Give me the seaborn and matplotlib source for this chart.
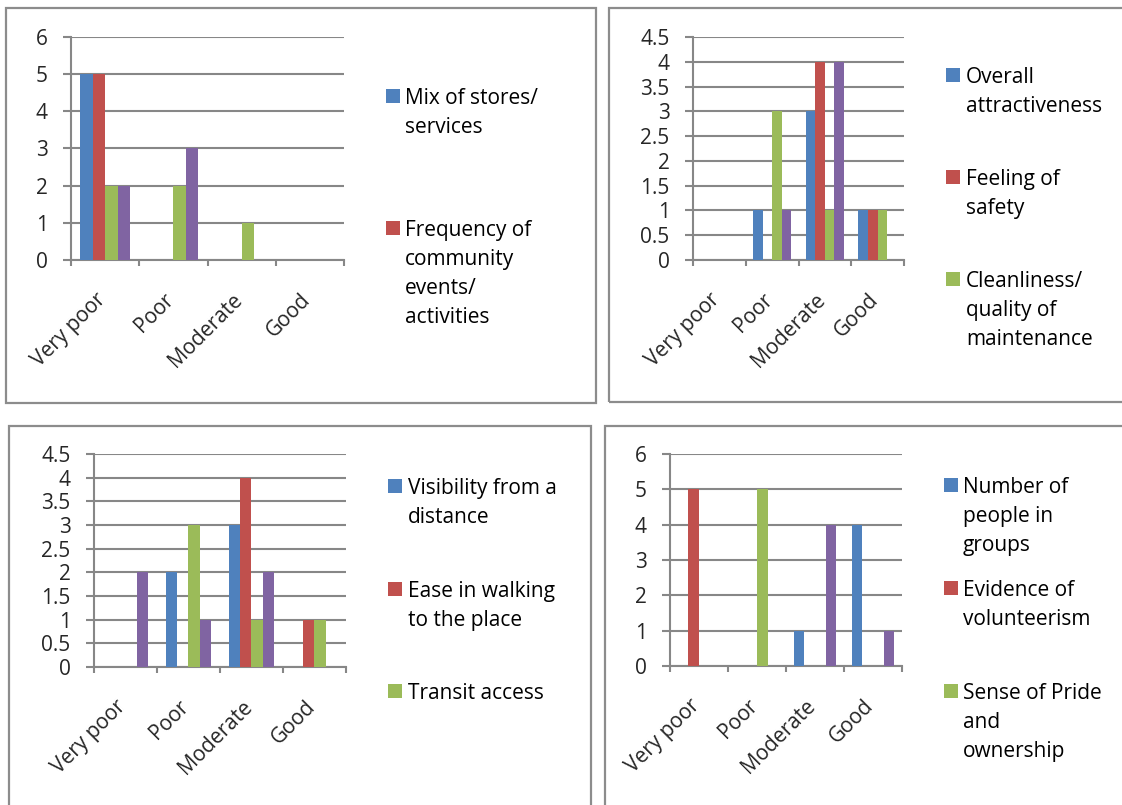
import numpy as np
import pandas as pd
import matplotlib
matplotlib.use("Agg")
import matplotlib.pyplot as plt
import matplotlib.transforms as mtransforms
from matplotlib.patches import Rectangle
import seaborn as sns

# ---------------- data ----------------
categories = ["Very poor", "Poor", "Moderate", "Good"]

p1_series = ["Mix of stores/\nservices", "Frequency of\ncommunity\nevents/\nactivities",
             "Series 3", "Series 4"]
p1_blue = [5, 0, 0, 0]
p1_red = [5, 0, 0, 0]
p1_green = [2, 2, 1, 0]
p1_purple = [2, 3, 0, 0]

p2_series = ["Overall\nattractiveness", "Feeling of\nsafety",
             "Cleanliness/\nquality of\nmaintenance", "Series 4"]
p2_blue = [0, 1, 3, 1]
p2_red = [0, 0, 4, 1]
p2_green = [0, 3, 1, 1]
p2_purple = [0, 1, 4, 0]

p3_series = ["Visibility from a\ndistance", "Ease in walking\nto the place",
             "Transit access", "Series 4"]
p3_blue = [0, 2, 3, 0]
p3_red = [0, 0, 4, 1]
p3_green = [0, 3, 1, 1]
p3_purple = [2, 1, 2, 0]

p4_series = ["Number of\npeople in\ngroups", "Evidence of\nvolunteerism",
             "Sense of Pride\nand\nownership", "Series 4"]
p4_blue = [0, 0, 1, 4]
p4_red = [5, 0, 0, 0]
p4_green = [0, 5, 0, 0]
p4_purple = [0, 0, 4, 1]

# ---------------- style ----------------
colors = ["#4F81BD", "#C0504D", "#9BBB59", "#8064A2"]
GRID = "#878787"
BORDER = "#8C8C8C"
FS = 15
W, H = 1122, 805

sns.set_style("white")
plt.rcParams["font.family"] = ["Open Sans", "DejaVu Sans"]
plt.rcParams["text.color"] = "black"

fig = plt.figure(figsize=(W / 100, H / 100), dpi=100)


def fx(x):
    return x / W


def fy(y):
    return 1 - y / H


# panel frames (px: left, top, right, bottom)
frames = [(6, 8, 596, 403), (609, 8, 1135, 402), (9, 426, 591, 815), (605, 426, 1135, 815)]
for (l, t, r, b) in frames:
    fig.add_artist(Rectangle((fx(l), fy(b)), fx(r) - fx(l), fy(t) - fy(b),
                             transform=fig.transFigure, fill=False,
                             ec=BORDER, lw=1.6, zorder=0))

panels = [
    dict(series=p1_series, vals=[p1_blue, p1_red, p1_green, p1_purple], ymax=6, step=1,
         rect=(71, 37, 344, 260), sq=386, tx=405, centers=[96, 228]),
    dict(series=p2_series, vals=[p2_blue, p2_red, p2_green, p2_purple], ymax=4.5, step=0.5,
         rect=(693, 37, 904, 260), sq=946, tx=966, centers=[75, 177, 279]),
    dict(series=p3_series, vals=[p3_blue, p3_red, p3_green, p3_purple], ymax=4.5, step=0.5,
         rect=(94, 454, 346, 667), sq=388, tx=408, centers=[486, 589, 691]),
    dict(series=p4_series, vals=[p4_blue, p4_red, p4_green, p4_purple], ymax=6, step=1,
         rect=(670, 454, 902, 666), sq=944, tx=963, centers=[485, 588, 691]),
]

for p in panels:
    l, t, r, b = p["rect"]
    ax = fig.add_axes([fx(l), fy(b), fx(r) - fx(l), fy(t) - fy(b)])
    rows = []
    for name, vals in zip(p["series"], p["vals"]):
        for c, v in zip(categories, vals):
            rows.append({"rating": c, "count": v, "series": name})
    df = pd.DataFrame(rows)
    sns.barplot(data=df, x="rating", y="count", hue="series", order=categories,
                hue_order=p["series"], palette=colors, width=4 / 5.5, saturation=1,
                linewidth=0, errorbar=None, legend=False, ax=ax, zorder=3)
    ax.set_xlim(-0.5, 3.5)
    ax.set_ylim(0, p["ymax"])
    yt = np.arange(0, p["ymax"] + 1e-9, p["step"])
    ax.set_yticks(yt)
    ax.set_yticklabels([f"{v:g}" for v in yt], fontsize=FS)
    ax.set_xlabel("")
    ax.set_ylabel("")
    ax.yaxis.grid(True, color=GRID, lw=1.5)
    ax.xaxis.grid(False)
    ax.set_axisbelow(True)
    for s in ["top", "right"]:
        ax.spines[s].set_visible(False)
    for s in ["left", "bottom"]:
        ax.spines[s].set_color(GRID)
        ax.spines[s].set_linewidth(1.5)
    ax.tick_params(axis="y", length=5.8, width=1.5, color=GRID, pad=11, direction="out", left=True)
    ax.set_xticks(range(len(categories)))
    ax.set_xticklabels(categories, rotation=45, ha="right", va="top", fontsize=FS)
    ax.set_xticks(np.arange(-0.5, len(categories), 1), minor=True)
    ax.tick_params(axis="x", which="major", length=0, pad=21, bottom=True)
    ax.tick_params(axis="x", which="minor", length=4.5, width=1.5, color=GRID,
                   direction="out", bottom=True)
    off = mtransforms.ScaledTranslation(5 / 100, 0, fig.dpi_scale_trans)
    for lbl in ax.get_xticklabels():
        lbl.set_transform(lbl.get_transform() + off)

    # legend (Excel style, evenly spaced entries)
    for i, cy in enumerate(p["centers"]):
        fig.add_artist(Rectangle((fx(p["sq"]), fy(cy + 7)), 14 / W, 14 / H,
                                 transform=fig.transFigure, fc=colors[i], ec="none"))
        fig.text(fx(p["tx"]), fy(cy - 8), p["series"][i], ha="left", va="top",
                 fontsize=FS, linespacing=1.5)

fig.savefig("out.png", dpi=100, facecolor="white")
